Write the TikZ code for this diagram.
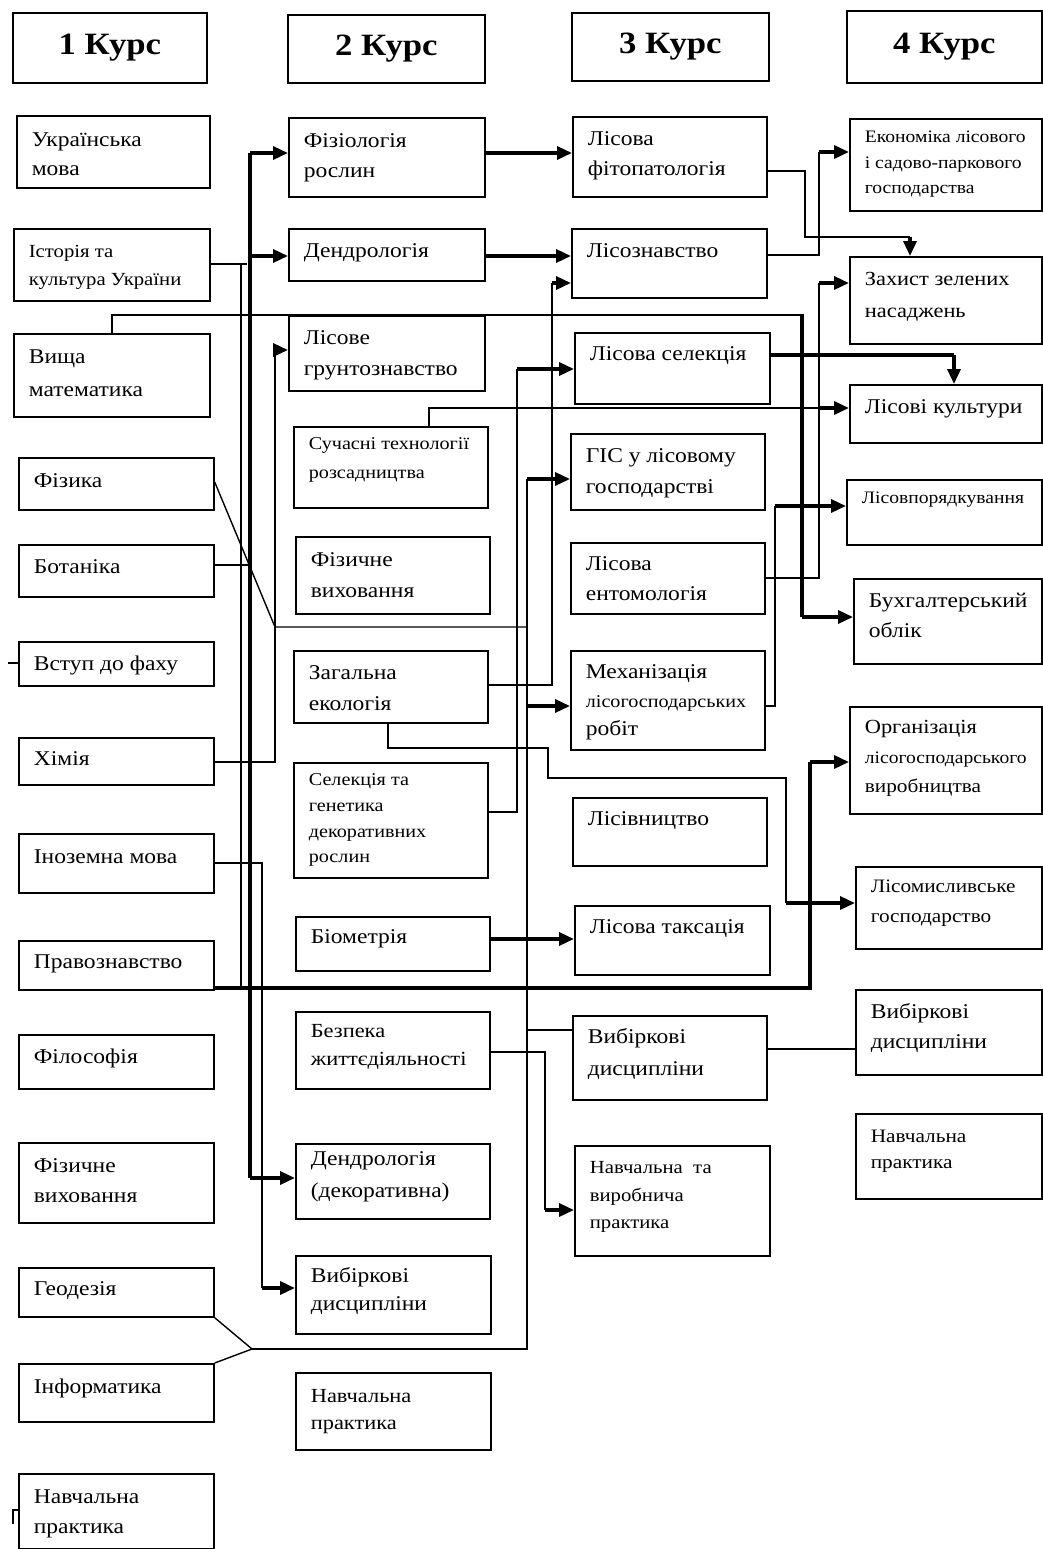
\documentclass[tikz,border=0pt]{standalone}
\usepackage{fontspec}
\setmainfont{Liberation Serif}[FakeStretch=1.12]
\usetikzlibrary{arrows.meta}
\tikzset{
  boxst/.style={draw, line width=1.7pt, inner sep=0pt},
  conn/.style={line width=1.4pt},
  thk/.style={line width=3.4pt},
  tipc/.style={line width=3.4pt, -{Triangle[length=15pt,width=13pt]}},
}
\newcommand\fs[3]{\fontsize{#1}{#2}\selectfont\def\firstbl{#3pt}}
\newcommand\bx[7]{\node[boxst,anchor=north west] (#1) at (#2,#3)
  {\parbox[b][\dimexpr#5pt-#3pt\relax][t]{\dimexpr#4pt-#2pt\relax}{#6\raggedright\leftskip=15pt\relax\rule{0pt}{\firstbl}#7}};}
\newcommand\hd[6]{\node[boxst, anchor=north west, minimum width=#4pt-#2pt, minimum height=#5pt-#3pt,
  font=\fontsize{31}{34}\selectfont\bfseries] (#1) at (#2,#3) {#6};}
\begin{document}
\begin{tikzpicture}[x=1pt,y=-1pt]
\fill[white] (0,0) rectangle (1042,1549);
\useasboundingbox (0,0) rectangle (1042,1549);
% headers
\hd{h1}{12}{12}{206}{82}{1 Курс}
\hd{h2}{287}{14}{484}{82}{2 Курс}
\hd{h3}{571}{12}{768}{80}{3 Курс}
\hd{h4}{846}{10}{1041}{82}{4 Курс}
% column 1
\bx{ukr}{16}{115}{209}{187}{\fs{21}{29}{31}}{Українська\\мова}
\bx{ist}{13}{228}{209}{300}{\fs{18.5}{28}{29}}{Історія та\\культура України}
\bx{vyshch}{13}{333}{209}{416}{\fs{21}{33}{30}}{Вища\\математика}
\bx{fiz}{18}{457}{213}{509}{\fs{21}{30}{30}}{Фізика}
\bx{bot}{18}{544}{213}{596}{\fs{21}{30}{29}}{Ботаніка}
\bx{vstup}{18}{641}{213}{685}{\fs{21}{30}{29}}{Вступ до фаху}
\bx{khim}{18}{737}{213}{784}{\fs{21}{30}{28}}{Хімія}
\bx{inoz}{18}{833}{213}{892}{\fs{21}{30}{30}}{Іноземна мова}
\bx{prav}{18}{940}{213}{989}{\fs{21}{30}{28}}{Правознавство}
\bx{filos}{18}{1034}{213}{1088}{\fs{21}{30}{29}}{Філософія}
\bx{fizv1}{18}{1142}{213}{1222}{\fs{21}{30}{30}}{Фізичне\\виховання}
\bx{geod}{18}{1267}{213}{1316}{\fs{21}{30}{28}}{Геодезія}
\bx{inf}{18}{1363}{213}{1421}{\fs{21}{30}{30}}{Інформатика}
\bx{nav1}{18}{1473}{213}{1548}{\fs{21}{30}{30}}{Навчальна\\практика}
% column 2
\bx{fiziol}{288}{117}{484}{196}{\fs{21}{30}{30}}{Фізіологія\\рослин}
\bx{dendr}{288}{228}{484}{280}{\fs{21}{30}{29}}{Дендрологія}
\bx{grunt}{288}{315}{484}{390}{\fs{21}{31}{29}}{Лісове\\грунтознавство}
\bx{suchas}{293}{426}{487}{507}{\fs{18}{29}{23}}{Сучасні технології\\розсадництва}
\bx{fizv2}{295}{536}{489}{613}{\fs{21}{31}{30}}{Фізичне\\виховання}
\bx{ekol}{293}{650}{487}{722}{\fs{21}{31}{29}}{Загальна\\екологія}
\bx{selgen}{293}{762}{487}{877}{\fs{18}{25.7}{23}}{Селекція та\\генетика\\декоративних\\рослин}
\bx{biom}{295}{916}{489}{970}{\fs{21}{30}{27}}{Біометрія}
\bx{bezp}{295}{1011}{489}{1088}{\fs{20}{28}{26}}{Безпека\\життєдіяльності}
\bx{dendrdek}{295}{1143}{489}{1218}{\fs{21}{32}{22}}{Дендрологія\\(декоративна)}
\bx{vyb2}{295}{1255}{490}{1333}{\fs{21}{28}{27}}{Вибіркові\\дисципліни}
\bx{nav2}{295}{1372}{490}{1449}{\fs{20}{27}{30}}{Навчальна\\практика}
% column 3
\bx{fitopat}{572}{116}{766}{196}{\fs{21}{30}{29}}{Лісова\\фітопатологія}
\bx{lisozn}{571}{228}{766}{297}{\fs{21}{30}{29}}{Лісознавство}
\bx{lissel}{574}{332}{769}{403}{\fs{21}{30}{28}}{Лісова селекція}
\bx{gis}{570}{433}{764}{509}{\fs{21}{31}{29}}{ГІС у лісовому\\господарстві}
\bx{entom}{570}{542}{764}{613}{\fs{21}{30}{28}}{Лісова\\ентомологія}
\bx{mekh}{570}{650}{764}{749}{\fs{21}{28.5}{28}}{Механізація\\{\fontsize{18}{28.5}\selectfont лісогосподарських}\\робіт}
\bx{lisivn}{572}{797}{766}{865}{\fs{21}{30}{28}}{Лісівництво}
\bx{taks}{574}{905}{769}{974}{\fs{21}{30}{28}}{Лісова таксація}
\bx{vyb3}{572}{1015}{766}{1099}{\fs{21}{32}{28}}{Вибіркові\\дисципліни}
\bx{navvyr}{574}{1145}{769}{1255}{\fs{18.5}{27.5}{28}}{Навчальна\ \ та\\виробнича\\практика}
% column 4
\bx{ekon}{849}{118}{1041}{210}{\fs{17.5}{25.5}{24}}{Економіка лісового\\і садово-паркового\\господарства}
\bx{zakhyst}{849}{256}{1041}{343}{\fs{20}{32}{29}}{Захист зелених\\насаджень}
\bx{kultury}{849}{384}{1041}{442}{\fs{21}{30}{29}}{Лісові культури}
\bx{vporyad}{846}{479}{1041}{544}{\fs{17.5}{25}{24}}{Лісовпорядкування}
\bx{bukh}{853}{578}{1041}{663}{\fs{21}{30}{29}}{Бухгалтерський\\облік}
\bx{orhan}{849}{706}{1041}{813}{\fs{20}{29.5}{27}}{Організація\\{\fontsize{17.5}{29.5}\selectfont лісогосподарського}\\{\fontsize{19}{29.5}\selectfont виробництва}}
\bx{mysl}{855}{866}{1041}{948}{\fs{19}{30}{26}}{Лісомисливське\\господарство}
\bx{vyb4}{855}{989}{1041}{1074}{\fs{21}{30}{29}}{Вибіркові\\дисципліни}
\bx{nav4}{855}{1113}{1041}{1198}{\fs{19}{26}{29}}{Навчальна\\практика}
% ---- connectors ----
% Ботаніка
\draw[conn] (bot.east |- 0,565) -- (250,565);
\draw[thk] (250,153) -- (250,1178);
\draw[tipc] (250,153) -- (fiziol.west |- 0,153);
\draw[tipc] (250,256) -- (dendr.west |- 0,256);
\draw[tipc] (250,1178) -- (dendrdek.west |- 0,1178);
% Історія
\draw[conn] (ist.east |- 0,264) -- (247,264);
\draw[conn] (241,264) -- (241,988);
% Вища математика
\draw[conn] (vyshch.north -| 112,0) -- (112,315) -- (802,315);
\draw[thk] (802,313.5) -- (802,617);
\draw[tipc] (802,617) -- (bukh.west |- 0,617);
% Фізика
\draw[conn] (fiz.east |- 0,482) -- (275,627) -- (527,627);
% Хімія
\draw[conn] (khim.east |- 0,762) -- (275,762) -- (275,350);
\draw[tipc] (275,350) -- (grunt.west |- 0,350);
% Іноземна мова
\draw[conn] (inoz.east |- 0,863) -- (262,863) -- (262,1288);
\draw[tipc] (262,1288) -- (vyb2.west |- 0,1288);
% Правознавство
\draw[thk] (prav.east |- 0,988) -- (810,988) -- (810,762);
\draw[tipc] (810,762) -- (orhan.west |- 0,762);
\draw[tipc] (786,903) -- (mysl.west |- 0,903);
% Сучасні технології
\draw[conn] (suchas.north -| 429,0) -- (429,408) -- (818,408);
\draw[tipc] (818,408) -- (kultury.west |- 0,408);
% Загальна екологія
\draw[conn] (ekol.east |- 0,685) -- (552,685) -- (552,283);
\draw[tipc] (552,283) -- (lisozn.west |- 0,283);
\draw[conn] (ekol.south -| 388,0) -- (388,748) -- (548,748) -- (548,778) -- (786,778) -- (786,903);
% Селекція та генетика
\draw[conn] (selgen.east |- 0,812) -- (517,812) -- (517,369);
\draw[tipc] (517,369) -- (lissel.west |- 0,369);
% Геодезія, Інформатика, Фізика network
\draw[conn] (527,479) -- (527,1349) -- (252,1349);
\draw[conn] (geod.south east) -- (252,1349) -- (inf.north east);
\draw[tipc] (527,479) -- (gis.west |- 0,479);
\draw[tipc] (527,706) -- (mekh.west |- 0,706);
\draw[conn] (527,1030) -- (vyb3.west |- 0,1030);
% Біометрія
\draw[tipc] (biom.east |- 0,939) -- (taks.west |- 0,939);
% Безпека
\draw[conn] (bezp.east |- 0,1052) -- (545,1052) -- (545,1210);
\draw[tipc] (545,1210) -- (navvyr.west |- 0,1210);
% Вибіркові 3 - 4
\draw[conn] (vyb3.east |- 0,1049) -- (vyb4.west |- 0,1049);
% 2 -> 3
\draw[tipc] (fiziol.east |- 0,153) -- (fitopat.west |- 0,153);
\draw[tipc] (dendr.east |- 0,256) -- (lisozn.west |- 0,256);
% 3 -> 4
\draw[conn] (lisozn.east |- 0,255) -- (819,255) -- (819,152);
\draw[tipc] (819,152) -- (ekon.west |- 0,152);
\draw[conn] (fitopat.east |- 0,171) -- (805,171) -- (805,237) -- (910,237);
\draw[tipc] (910,237) -- (zakhyst.north -| 910,0);
\draw[conn] (entom.east |- 0,578) -- (819,578) -- (819,283);
\draw[tipc] (819,283) -- (zakhyst.west |- 0,283);
\draw[thk] (lissel.east |- 0,355) -- (954,355);
\draw[tipc] (954,355) -- (kultury.north -| 954,0);
\draw[conn] (mekh.east |- 0,706) -- (775,706) -- (775,506);
\draw[tipc] (775,506) -- (vporyad.west |- 0,506);
% small ticks
\coordinate (vt) at (8,663);
\draw[conn] (vstup.west |- vt) -- (vt);
\coordinate (nt) at (13,1524);
\draw[conn] (nav1.west |- 0,1510) -- (13,1510) -- (nt);
\end{tikzpicture}
\end{document}
